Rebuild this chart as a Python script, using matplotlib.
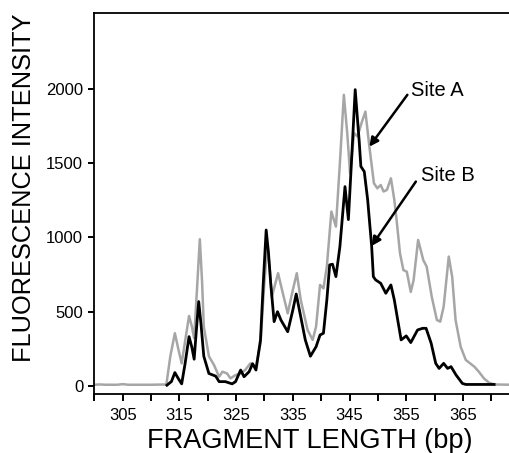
"""Fragment-length electropherogram: Site A (grey) vs Site B (black)."""
import matplotlib
matplotlib.use("Agg")
import matplotlib.pyplot as plt

# ---- data --------------------------------------------------------------------
site_a_bp = [300.0, 301.0, 302.0, 304.0, 305.0, 306.0, 310.0, 312.7, 313.4, 314.2,
             314.8, 315.4, 316.0, 316.7, 317.2, 317.6, 318.1, 318.6, 319.0, 319.3,
             320.2, 321.1, 322.0, 322.6, 323.4, 324.0, 324.9, 325.8, 326.6, 327.5,
             328.5, 329.3, 329.9, 330.5, 330.9, 331.3, 332.4, 333.1, 334.1, 335.0,
             335.7, 336.4, 337.6, 338.5, 339.1, 339.8, 340.4, 341.0, 341.8, 342.6,
             343.3, 344.0, 344.6, 345.1, 345.8, 346.4, 347.2, 347.8, 348.5, 349.3,
             349.9, 350.5, 351.0, 351.6, 352.3, 352.9, 353.3, 353.9, 354.5, 355.1,
             355.8, 356.3, 357.1, 358.0, 358.6, 359.5, 360.4, 361.0, 361.6, 362.5,
             363.1, 363.7, 364.6, 365.5, 367.0, 367.8, 368.7, 369.6, 370.5, 373.5]
site_a_val = [8, 10, 8, 8, 12, 8, 8, 10, 200, 355,
              250, 152, 300, 471, 400, 321, 650, 988, 700, 400,
              200, 141, 62, 96, 84, 51, 73, 84, 107, 152,
              130, 287, 650, 950, 800, 601, 759, 646, 489, 646,
              759, 579, 377, 310, 400, 680, 657, 804, 1174, 1073,
              1500, 1960, 1700, 1432, 1702, 1680, 1780, 1847, 1611, 1365,
              1331, 1353, 1309, 1320, 1398, 1253, 1118, 893, 780, 769,
              633, 712, 983, 848, 804, 601, 444, 433, 534, 871,
              736, 444, 264, 175, 130, 96, 51, 22, 10, 8]

site_b_bp = [312.8, 313.6, 314.2, 314.8, 315.4, 316.0, 316.7, 317.2, 317.6, 318.0,
             318.4, 318.8, 319.3, 320.2, 321.4, 322.0, 323.1, 324.3, 324.9, 325.8,
             326.4, 327.3, 327.9, 328.5, 329.3, 329.8, 330.3, 330.7, 331.1, 331.7,
             332.3, 332.9, 334.1, 335.0, 335.6, 336.4, 337.2, 338.1, 339.1, 339.8,
             340.4, 341.0, 341.5, 342.0, 342.6, 343.3, 344.2, 344.8, 345.4, 346.0,
             346.7, 347.0, 347.6, 348.2, 348.5, 348.9, 349.2, 349.6, 350.5, 351.4,
             352.3, 352.9, 353.5, 354.1, 355.0, 355.8, 357.0, 357.9, 358.5, 359.4,
             360.2, 360.8, 361.6, 362.3, 362.9, 363.8, 364.9, 365.5, 368.0, 370.5]
site_b_val = [5, 30, 90, 50, 14, 150, 332, 260, 180, 380,
              568, 420, 200, 84, 66, 29, 29, 14, 29, 107,
              62, 96, 150, 107, 310, 700, 1050, 900, 692, 433,
              500, 444, 365, 511, 619, 465, 310, 200, 264, 343,
              355, 579, 815, 820, 736, 937, 1342, 1120, 1550, 1995,
              1650, 1478, 1443, 1253, 1118, 943, 736, 714, 691, 624,
              680, 579, 444, 310, 337, 292, 377, 388, 388, 287,
              152, 118, 152, 118, 130, 73, 17, 10, 10, 10]

x_major = [305, 315, 325, 335, 345, 355, 365]
x_minor = [300, 310, 320, 330, 340, 350, 360, 370]
y_ticks = [0, 500, 1000, 1500, 2000]


def main():
    plt.rcParams["font.family"] = ["Liberation Sans", "DejaVu Sans"]
    fig = plt.figure(figsize=(5.10, 4.53), dpi=100)
    ax = fig.add_axes([0.185, 0.130, 0.815, 0.841])

    ax.plot(site_a_bp, site_a_val, color="#a6a6a6", lw=1.8, zorder=2,
            solid_joinstyle="round")
    ax.plot(site_b_bp, site_b_val, color="black", lw=2.0, zorder=3,
            solid_joinstyle="round")

    ax.set_xlim(300, 373.3)
    ax.set_ylim(-55, 2510)

    ax.set_xticks(x_major)
    ax.set_xticks(x_minor, minor=True)
    ax.set_yticks(y_ticks)
    ax.tick_params(axis="both", which="both", direction="out", width=1.4,
                   labelsize=12, colors="black")
    ax.tick_params(axis="x", which="both", length=5, pad=5)
    ax.tick_params(axis="y", length=4, pad=4)

    for side in ("left", "bottom", "top"):
        ax.spines[side].set_linewidth(1.3)
    ax.spines["right"].set_visible(False)

    # annotations
    arrow = dict(arrowstyle="-|>", color="black", lw=1.8, mutation_scale=13,
                 shrinkA=0, shrinkB=0)
    ax.annotate("", xy=(348.5, 1611), xytext=(355.2, 1960), arrowprops=arrow)
    ax.annotate("", xy=(348.9, 943), xytext=(356.7, 1376), arrowprops=arrow)
    ax.text(355.8, 1990, "Site A", fontsize=14.5, va="center", ha="left")
    ax.text(357.6, 1418, "Site B", fontsize=14.5, va="center", ha="left")

    fig.text(24 / 510, 1 - 188 / 453, "FLUORESCENCE INTENSITY", rotation=90,
             fontsize=18.3, ha="center", va="center")
    fig.text(310 / 510, 1 - 441 / 453, "FRAGMENT LENGTH (bp)",
             fontsize=19.5, ha="center", va="center")

    fig.savefig("out.png", dpi=100)
    plt.close(fig)


if __name__ == "__main__":
    main()
